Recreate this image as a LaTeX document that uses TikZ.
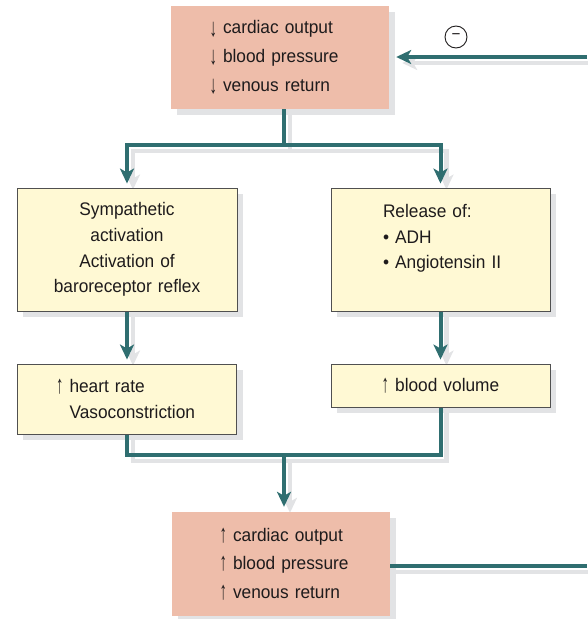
\documentclass[tikz,border=0pt]{standalone}
\usepackage{fontspec}
\setmainfont{Liberation Sans}[FakeStretch=0.95]
\usetikzlibrary{arrows.meta}
\definecolor{tealline}{RGB}{47,110,112}
\definecolor{salmonfill}{RGB}{238,189,170}
\definecolor{yellowfill}{RGB}{255,249,212}
\definecolor{boxborder}{RGB}{80,80,80}
\definecolor{shgray}{RGB}{226,227,229}
\definecolor{txt}{RGB}{30,27,28}
\pgfdeclarelayer{shadowlayer}
\pgfdeclarelayer{linelayer}
\pgfsetlayers{shadowlayer,linelayer,main}
\newcommand{\flowpath}[2]{%
  \begin{pgfonlayer}{shadowlayer}\draw[shline,#1,transform canvas={xshift=6pt,yshift=-6pt}] #2;\end{pgfonlayer}%
  \begin{pgfonlayer}{linelayer}\draw[tline,#1] #2;\end{pgfonlayer}}
\newcommand{\boxshadow}[1]{%
  \begin{pgfonlayer}{shadowlayer}\fill[shgray] ([shift={(6,6)}]#1.north west) rectangle ([shift={(6,6)}]#1.south east);\end{pgfonlayer}}
\newcommand{\dnarr}{\raisebox{-2.5pt}{\scalebox{0.85}[1.4]{↓}}}
\newcommand{\uparr}{\raisebox{-1pt}{\scalebox{0.85}[1.4]{↑}}}
\tikzset{
  salmonbox/.style={rectangle,fill=salmonfill,inner sep=0pt,text=txt,
    font=\fontsize{18.2pt}{28.7pt}\selectfont,align=left},
  yellowbox/.style={rectangle,draw=boxborder,line width=0.9pt,fill=yellowfill,inner sep=0pt,text=txt,
    font=\fontsize{18.2pt}{25.6pt}\selectfont},
  tline/.style={draw=tealline,line width=4pt},
  shline/.style={draw=shgray,line width=4.5pt},
  arr/.style={-{Stealth[length=15pt,width=14pt,inset=4pt]}},
}
\begin{document}
\begin{tikzpicture}[x=1pt,y=-1pt]
\useasboundingbox (0,0) rectangle (587,619);
% boxes
\node[salmonbox,minimum width=218pt,minimum height=103pt,text width=218pt] (top) at (280,57.5)
  {\hspace*{52pt}\llap{\dnarr\ }cardiac output\\\hspace*{52pt}\llap{\dnarr\ }blood pressure\\\hspace*{52pt}\llap{\dnarr\ }venous return};
\node[yellowbox,minimum width=220pt,minimum height=123pt,text width=220pt,align=center] (lbox) at (127,249.5)
  {Sympathetic\\activation\\Activation of\\baroreceptor reflex};
\node[yellowbox,minimum width=219pt,minimum height=123pt,text width=219pt,align=left] (rbox) at (440.5,249.5)
  {\hspace*{52pt}Release of:\\\hspace*{52pt}• ADH\\\hspace*{52pt}• Angiotensin II\\\mbox{}};
\node[yellowbox,minimum width=219pt,minimum height=70pt,text width=219pt,align=left] (lres) at (127,399)
  {\hspace*{52pt}\llap{\uparr\ }heart rate\\\hspace*{52pt}Vasoconstriction};
\node[yellowbox,minimum width=219pt,minimum height=43pt,text width=219pt,align=center] (rres) at (440.5,385.5)
  {\uparr\ blood volume};
\node[salmonbox,minimum width=218pt,minimum height=104pt,text width=218pt] (bot) at (281,564)
  {\hspace*{61pt}\llap{\uparr\ }cardiac output\\\hspace*{61pt}\llap{\uparr\ }blood pressure\\\hspace*{61pt}\llap{\uparr\ }venous return};
\node[circle,draw=txt,line width=0.9pt,minimum size=22pt,inner sep=0pt,text=txt,font=\fontsize{16pt}{16pt}\selectfont] (minus) at (456,37) {\raisebox{0.5pt}{−}};
\boxshadow{top}\boxshadow{lbox}\boxshadow{rbox}\boxshadow{lres}\boxshadow{rres}\boxshadow{bot}
% coordinates
\coordinate (s1) at (284,145);
\coordinate (s2) at (284,455);
\coordinate (fbin) at (587,57);
\coordinate (fbout) at (587,566);
% connectors
\flowpath{}{(s1 |- top.south) -- (s1)}
\flowpath{arr,shorten >=4pt}{(s1) -| (lbox.north)}
\flowpath{arr,shorten >=4pt}{(s1) -| (rbox.north)}
\flowpath{arr,shorten >=4pt}{(lbox.south) -- (lres.north)}
\flowpath{arr,shorten >=4pt}{(rbox.south) -- (rres.north)}
\flowpath{}{(lres.south) |- (s2) -| (rres.south)}
\flowpath{arr,shorten >=5pt}{(s2) -- (s2 |- bot.north)}
\flowpath{arr,shorten >=7pt}{(fbin) -- (fbin -| top.east)}
\flowpath{}{(fbout -| bot.east) -- (fbout)}
\end{tikzpicture}
\end{document}
